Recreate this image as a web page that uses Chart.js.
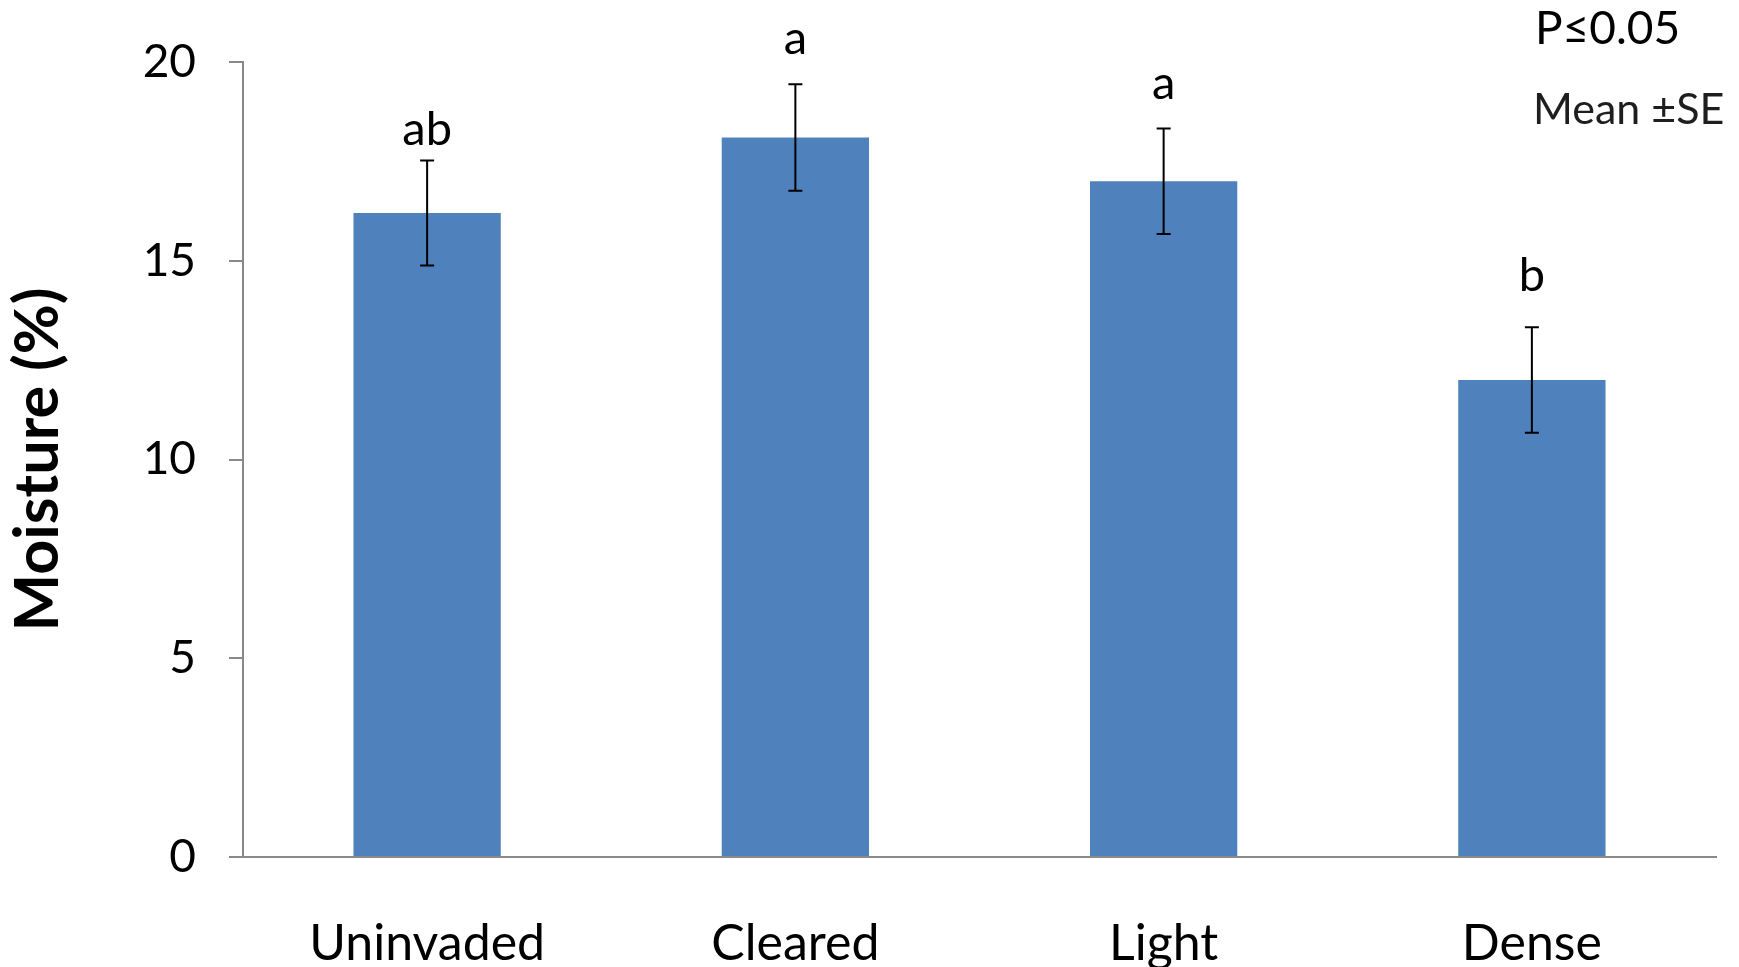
<!DOCTYPE html>
<html>
<head>
<meta charset="utf-8">
<script src="https://cdn.jsdelivr.net/npm/chart.js@4.4.1/dist/chart.umd.min.js"></script>
<style>
  html, body { margin: 0; padding: 0; background: #fff; }
  #wrap { width: 1739px; height: 967px; position: relative; }
</style>
</head>
<body>
<div id="wrap"><canvas id="moistureChart"></canvas></div>
<script>
const categories = ["Uninvaded", "Cleared", "Light", "Dense"];
const moistureMean = [16.2, 18.1, 17.0, 12.0];
const moistureSE = [1.32, 1.34, 1.33, 1.33];
const groupLetters = ["ab", "a", "a", "b"];
// y value (in % units) where each letter's baseline sits
const letterLevel = [17.9, 20.2, 19.07, 14.24];
const yTicks = [0, 5, 10, 15, 20];
const noteLines = ["P\u22640.05", "Mean \u00B1SE"];

const FONT = "Lato, 'Open Sans', sans-serif";
const AXIS_GREY = "#898989";
const BAR_BLUE = "#4F81BD";

// error bars + significance letters, drawn through the scales
const errorBarPlugin = {
  id: "errorBars",
  afterDatasetsDraw(chart) {
    const { ctx, scales } = chart;
    const meta = chart.getDatasetMeta(0);
    ctx.save();
    ctx.strokeStyle = "#000";
    ctx.lineWidth = 2;
    meta.data.forEach((bar, i) => {
      const x = bar.x;
      const top = scales.y.getPixelForValue(moistureMean[i] + moistureSE[i]);
      const bottom = scales.y.getPixelForValue(moistureMean[i] - moistureSE[i]);
      ctx.beginPath();
      ctx.moveTo(x, top);
      ctx.lineTo(x, bottom);
      ctx.moveTo(x - 7, top);
      ctx.lineTo(x + 7, top);
      ctx.moveTo(x - 7, bottom);
      ctx.lineTo(x + 7, bottom);
      ctx.stroke();

      ctx.fillStyle = "#000";
      ctx.font = `47px ${FONT}`;
      ctx.textAlign = "center";
      ctx.textBaseline = "alphabetic";
      ctx.fillText(groupLetters[i], x, scales.y.getPixelForValue(letterLevel[i]));
    });
    ctx.restore();
  },
};

const notePlugin = {
  id: "noteText",
  afterDraw(chart) {
    const { ctx } = chart;
    ctx.save();
    ctx.textAlign = "left";
    ctx.textBaseline = "alphabetic";
    ctx.font = `46px ${FONT}`;
    ctx.fillStyle = "#000";
    ctx.fillText(noteLines[0], 1535, 44);
    ctx.font = `43px ${FONT}`;
    ctx.fillStyle = "#1e1e1e";
    ctx.fillText(noteLines[1], 1533, 124);
    ctx.restore();
  },
};

new Chart(document.getElementById("moistureChart"), {
  type: "bar",
  data: {
    labels: categories,
    datasets: [
      {
        label: "Moisture",
        data: moistureMean,
        backgroundColor: BAR_BLUE,
        borderWidth: 0,
        categoryPercentage: 1,
        barPercentage: 0.4,
      },
    ],
  },
  options: {
    responsive: true,
    maintainAspectRatio: false,
    animation: false,
    layout: {
      padding: { top: 62, right: 23, left: 0, bottom: 0 },
    },
    plugins: {
      legend: { display: false },
      tooltip: { enabled: false },
    },
    scales: {
      x: {
        grid: { display: false, drawTicks: false },
        border: { display: true, color: AXIS_GREY, width: 2 },
        ticks: {
          color: "#000",
          font: { family: FONT, size: 50 },
          padding: 57,
          maxRotation: 0,
        },
        afterFit(scale) {
          scale.height = 110;
        },
      },
      y: {
        min: 0,
        max: 20,
        afterBuildTicks(scale) {
          scale.ticks = yTicks.map((v) => ({ value: v }));
        },
        grid: {
          drawOnChartArea: false,
          drawTicks: true,
          tickLength: 14,
          color: AXIS_GREY,
          lineWidth: 2,
        },
        border: { display: true, color: AXIS_GREY, width: 2 },
        ticks: {
          color: "#000",
          font: { family: FONT, size: 46 },
          padding: 33,
        },
        title: {
          display: true,
          text: "Moisture (%)",
          color: "#000",
          font: { family: FONT, size: 61, weight: "bold" },
          padding: { top: 2, bottom: 0 },
        },
        afterFit(scale) {
          scale.width = 243;
        },
      },
    },
  },
  plugins: [errorBarPlugin, notePlugin],
});
</script>
</body>
</html>
